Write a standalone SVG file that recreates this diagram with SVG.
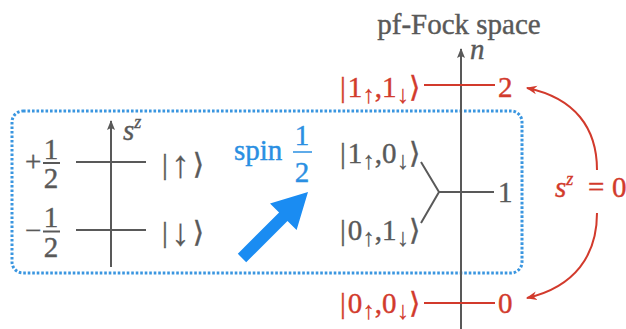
<svg xmlns="http://www.w3.org/2000/svg" width="626" height="329" viewBox="0 0 626 329">
<style>
.t{font-family:'Liberation Serif','DejaVu Serif',serif;font-size:29px;stroke-width:0.4}
.g{fill:#595959;stroke:#595959}
.r{fill:#d23a2c;stroke:#d23a2c}
.b{fill:#2a8fe2;stroke:#2a8fe2}
.it{font-style:italic}
.sub{font-size:25px;stroke-width:0.2}
.big{font-size:38px;stroke-width:0.2}
.sup{font-size:18px}
.gl{stroke:#595959;stroke-width:2;fill:none}
.rl{stroke:#d23a2c;stroke-width:2;fill:none}
</style>
<defs>
<marker id="ga" viewBox="0 0 10 10" refX="9" refY="5" markerWidth="10" markerHeight="10" markerUnits="userSpaceOnUse" orient="auto">
<path d="M0,1 L10,5 L0,9 L2,5 z" fill="#595959"/>
</marker>
<marker id="ra" viewBox="0 0 10 10" refX="9" refY="5" markerWidth="11" markerHeight="11" markerUnits="userSpaceOnUse" orient="auto">
<path d="M0,1 L10,5 L0,9 L3,5 z" fill="#d23a2c"/>
</marker>
</defs>

<g id="spin-box">
<rect x="12" y="111" width="510" height="162" rx="11" fill="none" stroke="#3a96e0" stroke-width="3" stroke-dasharray="2.6 1.9"/>
</g>

<g id="sz-axis">
<line class="gl" x1="111" y1="267" x2="111" y2="121" marker-end="url(#ga)"/>
<text class="t g it" x="123" y="140">s<tspan class="sup" dy="-12">z</tspan></text>
</g>

<g id="level-up">
<line class="gl" x1="76" y1="162" x2="146" y2="162"/>
<text class="t g" x="25" y="171">+</text>
<text class="t g" x="51" y="159" text-anchor="middle">1</text>
<line class="gl" x1="43" y1="163" x2="60" y2="163" stroke-width="1.5"/>
<text class="t g" x="51" y="188" text-anchor="middle">2</text>
<text class="t g" x="162" y="174">|<tspan class="big" dx="3" dy="3">↑</tspan><tspan dx="3" dy="-3">⟩</tspan></text>
</g>

<g id="level-down">
<line class="gl" x1="76" y1="230" x2="146" y2="230"/>
<text class="t g" x="25" y="240">−</text>
<text class="t g" x="51" y="227" text-anchor="middle">1</text>
<line class="gl" x1="43" y1="231.5" x2="60" y2="231.5" stroke-width="1.5"/>
<text class="t g" x="51" y="257" text-anchor="middle">2</text>
<text class="t g" x="162" y="242">|<tspan class="big" dx="3" dy="3">↓</tspan><tspan dx="3" dy="-3">⟩</tspan></text>
</g>

<g id="spin-label">
<text class="t b" x="234" y="160">spin</text>
<text class="t b" x="302" y="145" text-anchor="middle">1</text>
<line x1="293" y1="152" x2="312" y2="152" stroke="#2a8fe2" stroke-width="1.5"/>
<text class="t b" x="302" y="182" text-anchor="middle">2</text>
<polygon points="237.8,253.8 279.1,212.5 270,203.4 308,192 296.6,230 287.5,220.9 246.2,262.2" fill="#1a8cf2"/>
</g>

<g id="fock-axis">
<text class="t g" x="459" y="34" text-anchor="middle">pf-Fock space</text>
<line class="gl" x1="461" y1="329" x2="461" y2="49" marker-end="url(#ga)"/>
<text class="t g it" x="470" y="59">n</text>
</g>

<g id="n2">
<line class="rl" x1="424" y1="85" x2="495" y2="85"/>
<text class="t r" x="340" y="97">|<tspan dx="2">1</tspan><tspan class="sub" dy="6">↑</tspan><tspan dy="-6">,</tspan>1<tspan class="sub" dy="6">↓</tspan><tspan dy="-6">⟩</tspan></text>
<text class="t r" x="498" y="97">2</text>
</g>

<g id="n1">
<path class="gl" d="M421,162 L439,192 L421,223 M439,192 L494,192"/>
<text class="t g" x="340" y="163">|<tspan dx="2">1</tspan><tspan class="sub" dy="6">↑</tspan><tspan dy="-6">,</tspan>0<tspan class="sub" dy="6">↓</tspan><tspan dy="-6">⟩</tspan></text>
<text class="t g" x="340" y="240">|<tspan dx="2">0</tspan><tspan class="sub" dy="6">↑</tspan><tspan dy="-6">,</tspan>1<tspan class="sub" dy="6">↓</tspan><tspan dy="-6">⟩</tspan></text>
<text class="t g" x="498" y="202">1</text>
</g>

<g id="n0">
<line class="rl" x1="424" y1="303" x2="495" y2="303"/>
<text class="t r" x="340" y="313">|<tspan dx="2">0</tspan><tspan class="sub" dy="6">↑</tspan><tspan dy="-6">,</tspan>0<tspan class="sub" dy="6">↓</tspan><tspan dy="-6">⟩</tspan></text>
<text class="t r" x="498" y="313">0</text>
</g>

<g id="connectors">
<path class="rl" d="M597,170 C597,128 575,98 527,88" marker-end="url(#ra)"/>
<path class="rl" d="M597,213 C597,255 575,287 527,298" marker-end="url(#ra)"/>
</g>

<g id="sz-label">
<text class="t r it" x="555" y="197">s<tspan class="sup" dy="-12">z</tspan></text>
<text class="t r" x="588" y="197">=</text>
<text class="t r" x="612" y="197">0</text>
</g>
</svg>
